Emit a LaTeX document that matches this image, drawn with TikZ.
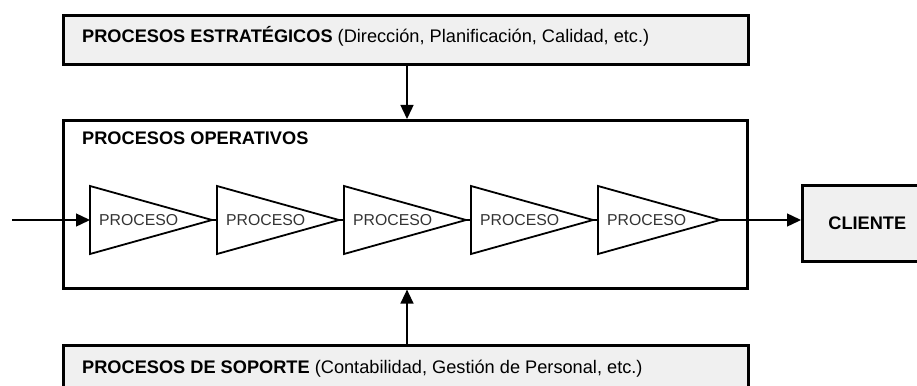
\documentclass[tikz,border=0pt]{standalone}
\usepackage{fontspec}
\setmainfont{Liberation Sans}
\usetikzlibrary{arrows.meta}
\definecolor{grisclaro}{HTML}{F0F0F0}

\begin{document}
\begin{tikzpicture}[x=1pt, y=-1pt,
        caja/.style={draw, line width=2.6pt, fill=grisclaro, anchor=north west, inner sep=0pt},
        etiq/.style={font=\fontsize{18.2}{21}\selectfont, inner sep=0pt},
        flecha/.style={line width=1.4pt, -{Triangle[length=14pt, width=13pt]}},
        proc/.style={draw, line width=1.8pt, line join=miter}]
        \useasboundingbox (0,0) rectangle (917,385);
        \clip (0,0) rectangle (917,385);
        % Procesos estratégicos
        \node[caja, minimum width=685pt, minimum height=49pt] (estrat) at (62,14) {};
        \node[etiq, anchor=west] (estrattxt) at (82,36) {\textbf{PROCESOS ESTRATÉGICOS} (Dirección, Planificación, Calidad, etc.)};
        % Procesos operativos
        \node[caja, fill=white, minimum width=684pt, minimum height=168pt] (oper) at (62,119) {};
        \node[etiq, anchor=west] (opertxt) at (82,138) {\textbf{PROCESOS OPERATIVOS}};
        % Procesos de soporte
        \node[caja, minimum width=685pt, minimum height=52pt] (soporte) at (62,344) {};
        \node[etiq, anchor=west] (soportetxt) at (82,369) {\textbf{PROCESOS DE SOPORTE} (Contabilidad, Gestión de Personal, etc.)};
        % Cliente
        \node[caja, etiq, minimum width=130pt, minimum height=76pt] (cliente) at (801,184) {\textbf{CLIENTE}};
        % Cadena de procesos
        \foreach \i in {1,...,5} {
            \pgfmathsetmacro{\xa}{90+127*(\i-1)}
            \draw[proc] (\xa,186) -- (\xa+122,220) -- (\xa,254) -- cycle;
            \coordinate (proc\i-in) at (\xa,220);
            \coordinate (proc\i-out) at (\xa+122,220);
            \node[font=\fontsize{15.8}{18}\selectfont, text=black!80, inner sep=0pt, anchor=west] (txt\i) at (\xa+9,220) {PROCESO};
        }
        \foreach \i [evaluate=\i as \j using int(\i+1)] in {1,...,4}
            \draw[line width=1.4pt] (proc\i-out) -- (proc\j-in);
        % Flechas
        \coordinate (entrada) at (12,220);
        \coordinate (eje) at (407,0);
        \draw[flecha] (entrada) -- (proc1-in);
        \draw[flecha] (proc5-out) -- (proc5-out -| cliente.west);
        \draw[flecha] (estrat.south -| eje) -- (oper.north -| eje);
        \draw[flecha] (soporte.north -| eje) -- (oper.south -| eje);
\end{tikzpicture}
\end{document}
